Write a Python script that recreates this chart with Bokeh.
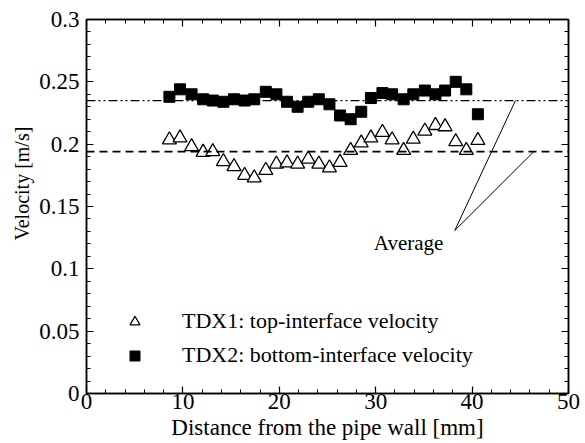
import math
from bokeh.plotting import figure
from bokeh.models import (Span, Label, Legend, LegendItem, FixedTicker, LinearAxis,
                          CustomJSTickFormatter, Range1d, Title)
from bokeh.embed import file_html
from bokeh.resources import INLINE

# ---------------- data ----------------
distance_mm = [8.6, 9.7, 10.9, 12.1, 13.1, 14.2, 15.3, 16.4, 17.4, 18.6,
               19.7, 20.8, 21.9, 23.0, 24.1, 25.2, 26.3, 27.4, 28.5, 29.5,
               30.7, 31.7, 32.9, 33.9, 35.1, 36.2, 37.2, 38.3, 39.4, 40.6]
tdx1_velocity = [0.2035, 0.205, 0.198, 0.1935, 0.194, 0.186, 0.182, 0.175, 0.173, 0.179,
                 0.184, 0.185, 0.184, 0.188, 0.184, 0.181, 0.1855, 0.195, 0.201, 0.205,
                 0.2095, 0.2035, 0.195, 0.204, 0.2105, 0.215, 0.214, 0.202, 0.195, 0.203]
tdx2_velocity = [0.238, 0.244, 0.240, 0.236, 0.235, 0.234, 0.236, 0.235, 0.236, 0.242,
                 0.240, 0.234, 0.230, 0.234, 0.236, 0.232, 0.223, 0.220, 0.226, 0.237,
                 0.241, 0.240, 0.236, 0.240, 0.243, 0.240, 0.243, 0.250, 0.244, 0.224]
avg_tdx1 = 0.194
avg_tdx2 = 0.235

x_ticks = [0, 10, 20, 30, 40, 50]
x_tick_labels = ["0", "10", "20", "30", "40", "50"]
y_ticks = [0, 0.05, 0.1, 0.15, 0.2, 0.25, 0.3]
y_tick_labels = ["0", "0.05", "0.1", "0.15", "0.2", "0.25", "0.3"]

series_labels = ["TDX1: top-interface velocity", "TDX2: bottom-interface velocity"]
x_title = "Distance from the pipe wall [mm]"
y_title = "Velocity [m/s]"
avg_text = "Average"

FONT = "Liberation Serif"

# ---------------- figure ----------------
p = figure(frame_width=482, frame_height=374,
           min_border_left=86, min_border_right=17, min_border_top=19, min_border_bottom=50,
           x_range=Range1d(0, 50), y_range=Range1d(0, 0.3),
           output_backend="svg", toolbar_location=None,
           x_axis_type=None, y_axis_type=None)
p.xgrid.visible = False
p.ygrid.visible = False
p.outline_line_color = "black"
p.outline_line_width = 1.5
p.background_fill_color = "white"
p.border_fill_color = "white"

x_minor = list(range(0, 51, 2))
y_minor = [i / 100 for i in range(0, 31)]

LOOKUP = "const i = t.findIndex(v => Math.abs(v - tick) < 1e-9); return i >= 0 ? l[i] : '';"


def make_axis(kind, show_labels):
    ax = LinearAxis()
    ticks, labels, minor = (x_ticks, x_tick_labels, x_minor) if kind == "x" else (y_ticks, y_tick_labels, y_minor)
    ax.ticker = FixedTicker(ticks=ticks, minor_ticks=minor)
    if show_labels:
        ax.formatter = CustomJSTickFormatter(args=dict(t=ticks, l=labels), code=LOOKUP)
    else:
        ax.formatter = CustomJSTickFormatter(code="return '';")
    ax.major_tick_in = 7
    ax.major_tick_out = 0
    ax.minor_tick_in = 4
    ax.minor_tick_out = 0
    ax.axis_line_color = "black"
    ax.axis_line_width = 1.5
    ax.major_tick_line_color = "black"
    ax.minor_tick_line_color = "black"
    ax.major_tick_line_width = 1.2
    ax.minor_tick_line_width = 1
    ax.major_label_text_font = FONT
    ax.major_label_text_color = "black"
    if show_labels:
        ax.major_label_text_font_size = "23px"
        ax.major_label_standoff = 0 if kind == "x" else 7
    else:
        ax.major_label_text_font_size = "1px"
        ax.major_label_standoff = 0
    return ax


xaxis = make_axis("x", True)
xaxis.axis_label = x_title
xaxis.axis_label_text_font = FONT
xaxis.axis_label_text_font_size = "23px"
xaxis.axis_label_text_font_style = "normal"
xaxis.axis_label_text_color = "black"
xaxis.axis_label_standoff = 3
p.add_layout(xaxis, "below")
p.add_layout(make_axis("y", True), "left")
p.add_layout(make_axis("x", False), "above")
p.add_layout(make_axis("y", False), "right")

# y axis title, shifted along the axis like the reference
p.add_layout(Title(text=y_title, align="left", offset=153, standoff=8,
                   text_font=FONT, text_font_size="20px", text_font_style="normal",
                   text_color="black"), "left")

# average lines
p.add_layout(Span(location=avg_tdx2, dimension="width", line_color="black",
                  line_width=1.2, line_dash="9 3 2 3 2 3"))
p.add_layout(Span(location=avg_tdx1, dimension="width", line_color="black",
                  line_width=1.6, line_dash="8 5"))

# data
r1 = p.scatter(distance_mm, tdx1_velocity, marker="triangle", size=14,
               fill_color="white", line_color="black", line_width=1.3)
r2 = p.scatter(distance_mm, tdx2_velocity, marker="square", size=11,
               fill_color="black", line_color="black", line_width=1)

# "Average" annotation with leader lines
p.segment(x0=[38.2, 38.2], y0=[0.1307, 0.1307], x1=[44.5, 46.4], y1=[avg_tdx2, avg_tdx1],
          line_color="black", line_width=1)
p.add_layout(Label(x=29.8, y=0.121, text=avg_text, text_font=FONT,
                   text_font_size="21px", text_color="black",
                   text_align="left", text_baseline="alphabetic"))

# legend
legend = Legend(items=[LegendItem(label=series_labels[0], renderers=[r1]),
                       LegendItem(label=series_labels[1], renderers=[r2])],
                location=(36, 25), glyph_width=25, glyph_height=25,
                label_height=25, label_standoff=35, spacing=8,
                padding=0, margin=0, border_line_color=None,
                background_fill_alpha=0,
                label_text_font=FONT, label_text_font_size="22px",
                label_text_color="black")
p.add_layout(legend)

open("out.html", "w").write(file_html(p, INLINE))
